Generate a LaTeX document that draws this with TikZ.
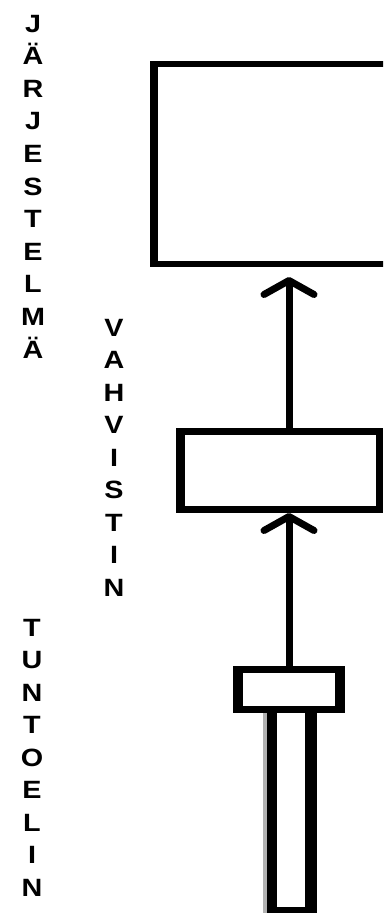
\documentclass[tikz,border=0pt]{standalone}
\usepackage{fontspec}
\newfontfamily\lab{Liberation Sans}[FakeStretch=1.15]
\usetikzlibrary{arrows.meta}
\begin{document}
\begin{tikzpicture}[x=1pt,y=-1pt,
  box/.style={draw=black, fill=white, rectangle, inner sep=0pt},
  lbl/.style={font=\lab\bfseries\fontsize{25}{25}\selectfont, inner sep=0pt, anchor=base},
  sig/.style={line width=7pt, -{Straight Barb[length=14pt,width=50pt,line width=7pt,round]}}]
\useasboundingbox (0,0) rectangle (383,913);
\clip (0,0) rectangle (383,913);
% system box (extends past right edge)
\node[box, line width=6pt, minimum width=246pt, minimum height=200pt] (sys) at (276,164) {};
\fill[black] (150,61) rectangle (158,267);
% amplifier
\node[box, line width=7pt, minimum width=200pt, minimum height=78pt] (amp) at (279.5,470.5) {};
\fill[black] (176,428) rectangle (185,513);
% sensor stem
\node[box, line width=6pt, minimum width=44pt, minimum height=200pt] (stem) at (292,810) {};
\fill[gray!60] (263,713) rectangle (267,913);
\fill[black] (267,713) rectangle (277,913);
\fill[black] (305,713) rectangle (317,913);
% sensor head
\node[box, line width=7pt, minimum width=105pt, minimum height=40pt] (head) at (289,689.5) {};
\fill[black] (233,666) rectangle (243,713);
\fill[black] (335,666) rectangle (345,713);
% connectors
\draw[sig, shorten >=10pt] (amp.north -| head.center) -- (sys.south -| head.center);
\draw[sig] (head.north) -- (amp.south -| head.center);
% labels
\foreach \c [count=\i from 0] in {J,Ä,R,J,E,S,T,E,L,M,Ä}
  \node[lbl] (ja\i) at (33, 32+32.6*\i) {\c};
\foreach \c [count=\i from 0] in {V,A,H,V,I,S,T,I,N}
  \node[lbl] (va\i) at (114, 336+32.5*\i) {\c};
\foreach \c [count=\i from 0] in {T,U,N,T,O,E,L,I,N}
  \node[lbl] (tu\i) at (32, 636+32.5*\i) {\c};
\end{tikzpicture}
\end{document}
